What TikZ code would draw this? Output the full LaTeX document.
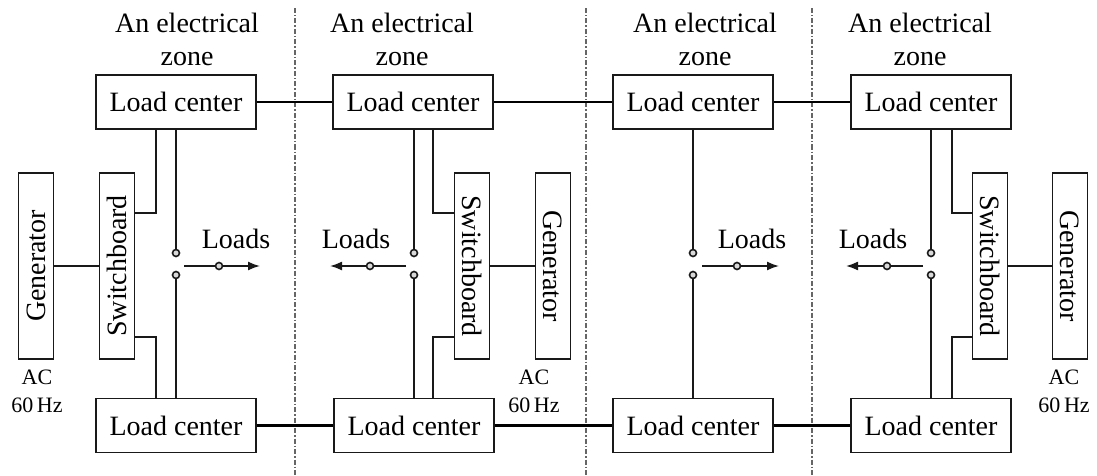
\documentclass[tikz,border=0pt]{standalone}
\usepackage{fontspec}
\usepackage{graphicx}
\setmainfont{Liberation Serif}
\usetikzlibrary{arrows.meta,calc}
\begin{document}
\begin{tikzpicture}[x=1pt,y=-1pt,
  big/.style={font=\fontsize{28}{33}\selectfont},
  lc/.style={draw=black!90, line width=1.9pt, minimum width=160pt, minimum height=54pt, inner sep=0pt, big},
  vbox/.style={draw=black!90, line width=1.9pt, minimum width=35pt, minimum height=186pt, inner sep=0pt, big},
  title/.style={align=center, inner sep=0pt, big},
  acl/.style={align=center, inner sep=0pt, font=\fontsize{22}{28}\selectfont},
  loads/.style={anchor=base, inner sep=0pt, big},
  term/.style={circle, draw=black!90, fill=black!15, line width=1.6pt, inner sep=0pt, minimum size=7pt},
  wire/.style={draw=black!90, line width=1.6pt},
  bus/.style={draw=black, line width=2.8pt},
  outarrow/.style={wire, -{Latex[length=12pt,width=9pt]}},
  zoneline/.style={draw=black!60, line width=1.3pt, dash pattern=on 5pt off 2pt on 1.5pt off 2pt}
]
\useasboundingbox (0,0) rectangle (1097,476);

% zone separators
\coordinate (d1t) at (295,8);  \coordinate (d1b) at (295,476);
\coordinate (d2t) at (586,8);  \coordinate (d2b) at (586,476);
\coordinate (d3t) at (812,8);  \coordinate (d3b) at (812,476);
\draw[zoneline] (d1t) -- (d1b);
\draw[zoneline] (d2t) -- (d2b);
\draw[zoneline] (d3t) -- (d3b);

% titles
\node[title] (t1) at (187,39) {An electrical\\zone};
\node[title] (t2) at (402,39) {An electrical\\zone};
\node[title] (t3) at (705,39) {An electrical\\zone};
\node[title] (t4) at (920,39) {An electrical\\zone};

% load centers
\node[lc] (lc1t) at (176,102) {Load center};
\node[lc] (lc1b) at (176,425.5) {Load center};
\node[lc] (lc2t) at (413,102) {Load center};
\node[lc] (lc2b) at (414,425.5) {Load center};
\node[lc] (lc3t) at (693,102) {Load center};
\node[lc] (lc3b) at (693,425.5) {Load center};
\node[lc] (lc4t) at (931,102) {Load center};
\node[lc] (lc4b) at (931,425.5) {Load center};

% buses between zones
\draw[bus] (lc1t.east) -- (lc2t.west);
\draw[bus] (lc2t.east) -- (lc3t.west);
\draw[bus] (lc3t.east) -- (lc4t.west);
\draw[bus] (lc1b.east) -- (lc2b.west);
\draw[bus] (lc2b.east) -- (lc3b.west);
\draw[bus] (lc3b.east) -- (lc4b.west);

% generators and switchboards
\node[vbox] (g1) at (36,266) {\rotatebox{90}{Generator}};
\node[vbox] (s1) at (117,266) {\rotatebox{90}{Switchboard}};
\node[vbox] (s2) at (472,266) {\rotatebox{-90}{Switchboard}};
\node[vbox] (g2) at (553,266) {\rotatebox{-90}{Generator}};
\node[vbox] (s4) at (990,266) {\rotatebox{-90}{Switchboard}};
\node[vbox] (g4) at (1070,266) {\rotatebox{-90}{Generator}};

\draw[wire] (g1.east) -- (s1.west);
\draw[wire] (g2.west) -- (s2.east);
\draw[wire] (g4.west) -- (s4.east);

% switchboard feeders
\draw[wire] ([yshift=53pt]s1.east) -| ([xshift=-20pt]lc1t.south);
\draw[wire] ([yshift=-71pt]s1.east) -| ([xshift=-20pt]lc1b.north);
\draw[wire] ([yshift=53pt]s2.west) -| ([xshift=20pt]lc2t.south);
\draw[wire] ([yshift=-71pt]s2.west) -| ([xshift=19pt]lc2b.north);
\draw[wire] ([yshift=53pt]s4.west) -| ([xshift=21pt]lc4t.south);
\draw[wire] ([yshift=-71pt]s4.west) -| ([xshift=21pt]lc4b.north);

% AC labels
\node[acl] (ac1) at (37,391) {AC\\60\,Hz};
\node[acl] (ac2) at (534,391) {AC\\60\,Hz};
\node[acl] (ac4) at (1064,391) {AC\\60\,Hz};

% zone 1 loads
\node[term] (k1a) at (176,253) {};
\node[term] (k1b) at (176,275) {};
\draw[wire] (lc1t.south) -- (k1a);
\draw[wire] (lc1b.north) -- (k1b);
\coordinate (o1s) at (184,266); \coordinate (o1e) at (260,266);
\draw[outarrow] (o1s) -- (o1e);
\node[term] (m1) at (219,266) {};
\node[loads] (l1) at (236,248) {Loads};

% zone 2 loads
\node[term] (k2a) at (414,253) {};
\node[term] (k2b) at (414,275) {};
\draw[wire] (lc2t.south -| k2a) -- (k2a);
\draw[wire] (lc2b.north) -- (k2b);
\coordinate (o2s) at (406,266); \coordinate (o2e) at (330,266);
\draw[outarrow] (o2s) -- (o2e);
\node[term] (m2) at (370,266) {};
\node[loads] (l2) at (356,248) {Loads};

% zone 3 loads
\node[term] (k3a) at (693,253) {};
\node[term] (k3b) at (693,275) {};
\draw[wire] (lc3t.south) -- (k3a);
\draw[wire] (lc3b.north) -- (k3b);
\coordinate (o3s) at (702,266); \coordinate (o3e) at (779,266);
\draw[outarrow] (o3s) -- (o3e);
\node[term] (m3) at (737,266) {};
\node[loads] (l3) at (752,248) {Loads};

% zone 4 loads
\node[term] (k4a) at (931,253) {};
\node[term] (k4b) at (931,275) {};
\draw[wire] (lc4t.south) -- (k4a);
\draw[wire] (lc4b.north) -- (k4b);
\coordinate (o4s) at (923,266); \coordinate (o4e) at (846,266);
\draw[outarrow] (o4s) -- (o4e);
\node[term] (m4) at (887,266) {};
\node[loads] (l4) at (873,248) {Loads};
\end{tikzpicture}
\end{document}
